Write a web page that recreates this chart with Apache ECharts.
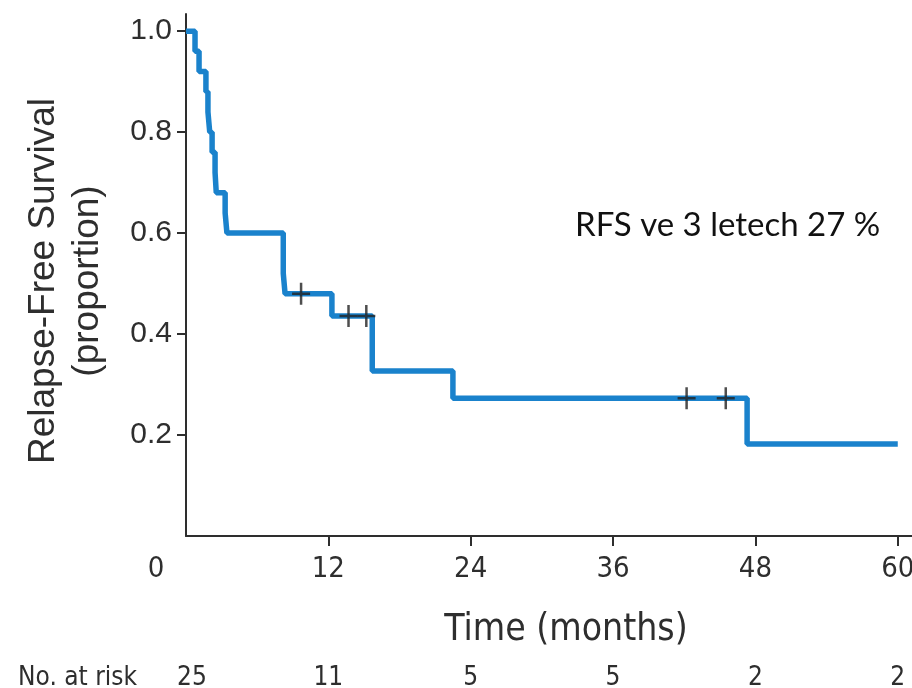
<!DOCTYPE html>
<html lang="cs" style="height: 100%">
<head>
  <meta charset="utf-8">
</head>
<body style="height: 100%; margin: 0; background: #fff">
  <div id="container" style="width: 912px; height: 688px"></div>

  <script type="text/javascript" src="https://fastly.jsdelivr.net/npm/echarts@6.0.0/dist/echarts.min.js"></script>

  <script type="text/javascript">
    var dom = document.getElementById('container');
    var myChart = echarts.init(dom, null, { renderer: 'canvas' });

    // Kaplan-Meier steps: time of each drop and the survival after it
    const months = [0, 0.76, 1.1, 1.68, 1.85, 2.0, 2.2, 2.45, 2.55, 3.3, 3.45, 8.2, 8.35, 12.3, 15.7, 22.5, 47.3, 60];
    const survival = [1, 0.96, 0.92, 0.88, 0.84, 0.8, 0.76, 0.72, 0.68, 0.64, 0.6, 0.52, 0.48, 0.436, 0.327, 0.273, 0.182, 0.182];
    // censored patients (+ marks)
    const censorMonths = [9.7, 13.7, 15.2, 42.2, 45.5];
    const censorSurvival = [0.48, 0.436, 0.436, 0.273, 0.273];
    const xTicks = [0, 12, 24, 36, 48, 60];
    const yTicks = [0.2, 0.4, 0.6, 0.8, 1.0];
    const atRisk = [25, 11, 5, 5, 2, 2];

    const axisColor = '#2e2e2e';
    const narrow = "'Liberation Sans Narrow', 'DejaVu Sans Condensed', sans-serif";
    const sans = "'Liberation Sans', Arial, sans-serif";

    var option = {
      animation: false,
      backgroundColor: '#fff',
      title: {
        text: 'RFS ve 3 letech 27 %',
        left: 570,
        top: 204,
        textStyle: {
          fontFamily: 'Lato, "Open Sans", sans-serif',
          fontWeight: 'normal',
          fontSize: 33,
          color: '#111'
        }
      },
      grid: {
        left: 186,
        right: 0,
        top: 14,
        bottom: 152,
        outerBoundsMode: 'none'
      },
      xAxis: [
        {
          type: 'value',
          min: 0,
          max: 61.2,
          name: 'Time (months)',
          nameLocation: 'middle',
          nameGap: 76,
          nameTextStyle: {
            fontFamily: narrow,
            fontSize: 37,
            color: axisColor,
            padding: [0, 0, 0, 34]
          },
          axisLine: { lineStyle: { color: axisColor, width: 2 } },
          axisTick: {
            customValues: [12, 24, 36, 48, 60],
            length: 10,
            lineStyle: { color: axisColor, width: 2 }
          },
          axisLabel: {
            customValues: xTicks,
            margin: 19,
            fontFamily: narrow,
            fontSize: 29,
            color: axisColor,
            formatter: function (v) {
              return v === 0 ? '{z|0}' : String(v);
            },
            rich: {
              z: { fontFamily: narrow, fontSize: 29, color: axisColor, padding: [0, 60, 0, 0] }
            }
          },
          splitLine: { show: false }
        },
        {
          type: 'value',
          min: 0,
          max: 61.2,
          position: 'bottom',
          offset: 142,
          name: 'No. at risk',
          nameLocation: 'start',
          nameGap: 49,
          nameTextStyle: {
            fontFamily: narrow,
            fontSize: 26,
            color: axisColor,
            verticalAlign: 'middle'
          },
          axisLine: { show: false },
          axisTick: { show: false },
          axisLabel: {
            customValues: xTicks,
            margin: 0,
            verticalAlign: 'middle',
            fontFamily: narrow,
            fontSize: 26,
            color: axisColor,
            formatter: function (v) {
              var n = atRisk[xTicks.indexOf(v)];
              return v === 0 ? '{f|' + n + '}' : String(n);
            },
            rich: {
              f: { fontFamily: narrow, fontSize: 26, color: axisColor, padding: [0, 0, 0, 12] }
            }
          },
          splitLine: { show: false }
        }
      ],
      yAxis: {
        type: 'value',
        min: 0,
        max: 1.034,
        name: 'Relapse-Free Survival\n(proportion)',
        nameLocation: 'middle',
        nameGap: 76,
        nameTextStyle: {
          fontFamily: sans,
          fontSize: 37,
          lineHeight: 44,
          color: axisColor,
          padding: [0, 12, 0, 0]
        },
        axisLine: { show: true, lineStyle: { color: axisColor, width: 2 } },
        axisTick: {
          show: true,
          customValues: yTicks,
          length: 9,
          lineStyle: { color: axisColor, width: 2 }
        },
        axisLabel: {
          customValues: yTicks,
          margin: 14,
          fontFamily: sans,
          fontSize: 30,
          color: axisColor,
          formatter: function (v) {
            return v.toFixed(1);
          }
        },
        splitLine: { show: false }
      },
      series: [
        {
          name: 'RFS',
          type: 'line',
          step: 'end',
          data: months.map(function (m, i) { return [m, survival[i]]; }),
          showSymbol: false,
          lineStyle: { color: '#1a82cc', width: 5.5 },
          z: 2
        },
        {
          name: 'censored',
          type: 'scatter',
          data: censorMonths.map(function (m, i) { return [m, censorSurvival[i]]; }),
          symbol: 'path://M0,9.75h18v2.5h-18z M7.75,0h2.5v22h-2.5z',
          symbolSize: [18, 22],
          itemStyle: { color: '#222' },
          z: 3
        }
      ]
    };

    myChart.setOption(option);
    window.addEventListener('resize', myChart.resize);
  </script>
</body>
</html>
